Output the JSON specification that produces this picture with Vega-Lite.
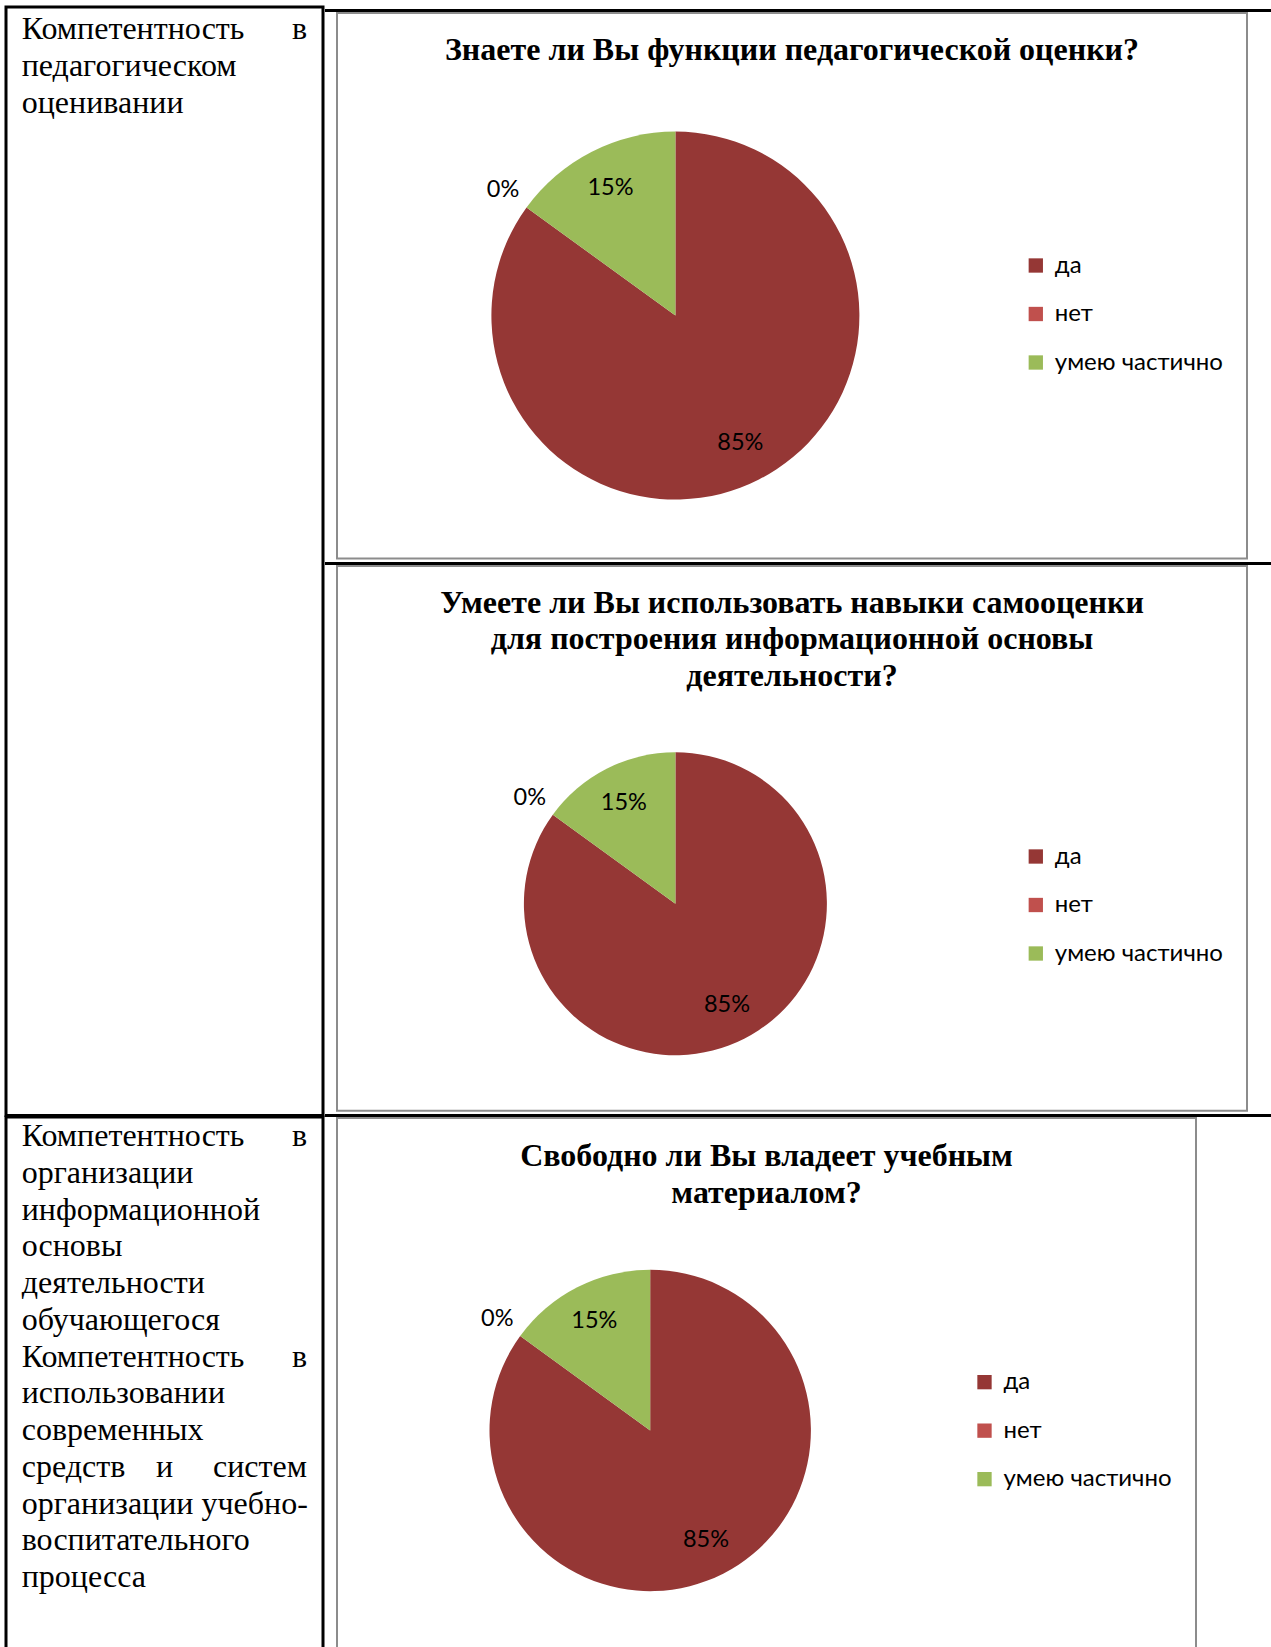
{
  "$schema": "https://vega.github.io/schema/vega-lite/v6.json",
  "padding": {"left": 4, "top": 5, "right": 0, "bottom": 0},
  "background": "white",
  "config": {"view": {"stroke": null}, "font": "Liberation Serif"},
  "datasets": {
    "pies": [
      {"chart": 1, "cat": "да", "v": 0.85},
      {"chart": 1, "cat": "нет", "v": 0},
      {"chart": 1, "cat": "умею частично", "v": 0.15},
      {"chart": 2, "cat": "да", "v": 0.85},
      {"chart": 2, "cat": "нет", "v": 0},
      {"chart": 2, "cat": "умею частично", "v": 0.15},
      {"chart": 3, "cat": "да", "v": 0.85},
      {"chart": 3, "cat": "нет", "v": 0},
      {"chart": 3, "cat": "умею частично", "v": 0.15}
    ],
    "cells": [
      {"cell": "A", "part": "left", "txt": "Компетентность\nпедагогическом\nоценивании"},
      {"cell": "A", "part": "right1", "txt": "в"},
      {"cell": "B", "part": "left", "txt": "Компетентность\nорганизации\nинформационной\nосновы\nдеятельности\nобучающегося\nКомпетентность\nиспользовании\nсовременных\nсредств\nорганизации учебно-\nвоспитательного\nпроцесса"},
      {"cell": "B", "part": "right1", "txt": "в"},
      {"cell": "B", "part": "right7", "txt": "в"},
      {"cell": "B", "part": "right10", "txt": "систем"},
      {"cell": "B", "part": "center10", "txt": "и"}
    ]
  },
  "hconcat": [
    {
      "vconcat": [
        {
          "width": 317, "height": 1108.5,
          "view": {"stroke": "black", "strokeWidth": 3},
          "data": {"name": "cells"},
          "transform": [{"filter": "datum.cell === 'A'"}],
          "layer": [
            {"transform": [{"filter": "datum.part === 'left'"}],
             "mark": {"type": "text", "align": "left", "baseline": "alphabetic", "lineBreak": "\n", "lineHeight": 36.75, "fontSize": 32, "font": "Liberation Serif", "color": "black", "dx": -142.8, "dy": -522.2},
             "encoding": {"text": {"field": "txt", "type": "nominal"}}},
            {"transform": [{"filter": "datum.part === 'right1'"}],
             "mark": {"type": "text", "align": "right", "baseline": "alphabetic", "fontSize": 32, "font": "Liberation Serif", "color": "black", "dx": 142.5, "dy": -522.2},
             "encoding": {"text": {"field": "txt", "type": "nominal"}}}
          ]
        },
        {
          "width": 317, "height": 560,
          "view": {"stroke": "black", "strokeWidth": 3},
          "data": {"name": "cells"},
          "transform": [{"filter": "datum.cell === 'B'"}],
          "layer": [
            {"transform": [{"filter": "datum.part === 'left'"}],
             "mark": {"type": "text", "align": "left", "baseline": "alphabetic", "lineBreak": "\n", "lineHeight": 36.75, "fontSize": 32, "font": "Liberation Serif", "color": "black", "dx": -142.8, "dy": -250.8},
             "encoding": {"text": {"field": "txt", "type": "nominal"}}},
            {"transform": [{"filter": "datum.part === 'right1'"}],
             "mark": {"type": "text", "align": "right", "baseline": "alphabetic", "fontSize": 32, "font": "Liberation Serif", "color": "black", "dx": 142.5, "dy": -250.8},
             "encoding": {"text": {"field": "txt", "type": "nominal"}}},
            {"transform": [{"filter": "datum.part === 'right7'"}],
             "mark": {"type": "text", "align": "right", "baseline": "alphabetic", "fontSize": 32, "font": "Liberation Serif", "color": "black", "dx": 142.5, "dy": -30.3},
             "encoding": {"text": {"field": "txt", "type": "nominal"}}},
            {"transform": [{"filter": "datum.part === 'right10'"}],
             "mark": {"type": "text", "align": "right", "baseline": "alphabetic", "fontSize": 32, "font": "Liberation Serif", "color": "black", "dx": 142.5, "dy": 79.95},
             "encoding": {"text": {"field": "txt", "type": "nominal"}}},
            {"transform": [{"filter": "datum.part === 'center10'"}],
             "mark": {"type": "text", "align": "center", "baseline": "alphabetic", "fontSize": 32, "font": "Liberation Serif", "color": "black", "dx": 0, "dy": 79.95},
             "encoding": {"text": {"field": "txt", "type": "nominal"}}}
          ]
        }
      ],
      "spacing": -6
    },
    {
      "vconcat": [
        {"width": 1, "height": 1.5, "data": {"values": []}, "mark": "point", "encoding": {}, "view": {"fill": "white", "stroke": null}},
        {"width": 947, "height": 3, "data": {"values": []}, "mark": "point", "encoding": {}, "view": {"fill": "black", "stroke": null}},
        {
          "hconcat": [
            {"width": 1, "height": 1, "data": {"values": []}, "mark": "point", "encoding": {}, "view": {"fill": "white", "stroke": null}},
            {
              "width": 910, "height": 545.5,
              "view": {"stroke": "#8c8c8c", "strokeWidth": 2},
              "title": {"text": "Знаете ли Вы функции педагогической оценки?", "font": "Liberation Serif", "fontSize": 32, "fontWeight": "bold", "color": "black", "anchor": "middle", "frame": "group", "orient": "top", "offset": -54},
              "data": {"name": "pies"},
              "transform": [{"filter": "datum.chart === 1"}],
              "layer": [
                {"mark": {"type": "arc", "outerRadius": 184, "xOffset": -116.6, "yOffset": 29.85},
                 "encoding": {
                   "theta": {"field": "v", "type": "quantitative", "stack": true},
                   "order": {"field": "cat", "type": "ordinal", "sort": "ascending"},
                   "color": {"field": "cat", "type": "nominal", "scale": {"domain": ["да", "нет", "умею частично"], "range": ["#953735", "#C0504D", "#9BBB59"]},
                     "legend": {"orient": "none", "legendX": 686.8, "legendY": 240.5, "title": null, "symbolType": "square", "symbolSize": 205, "symbolStrokeWidth": 0, "labelFont": "Lato", "labelFontSize": 24, "labelColor": "black", "labelOffset": 7, "rowPadding": 24.5, "padding": 0, "labelLimit": 400}}}},
                {"mark": {"type": "text", "radius": 143, "xOffset": -116.6, "yOffset": 29.85, "font": "Lato", "fontSize": 23.5, "color": "black"},
                 "encoding": {
                   "theta": {"field": "v", "type": "quantitative", "stack": true},
                   "order": {"field": "cat", "type": "ordinal", "sort": "ascending"},
                   "detail": {"field": "cat", "type": "nominal"},
                   "text": {"field": "v", "type": "quantitative", "format": ".0%"},
                   "opacity": {"condition": {"test": "datum.v > 0", "value": 1}, "value": 0}}},
                {"mark": {"type": "text", "radius": 213, "xOffset": -116.6, "yOffset": 29.85, "font": "Lato", "fontSize": 23.5, "color": "black"},
                 "encoding": {
                   "theta": {"field": "v", "type": "quantitative", "stack": true},
                   "order": {"field": "cat", "type": "ordinal", "sort": "ascending"},
                   "detail": {"field": "cat", "type": "nominal"},
                   "text": {"field": "v", "type": "quantitative", "format": ".0%"},
                   "opacity": {"condition": {"test": "datum.v > 0", "value": 0}, "value": 1}}}
              ]
            }
          ],
          "spacing": 10,
          "resolve": {"scale": {"color": "independent", "theta": "independent"}, "legend": {"color": "independent"}}
        },
        {"width": 1, "height": 1.7, "data": {"values": []}, "mark": "point", "encoding": {}, "view": {"fill": "white", "stroke": null}},
        {"width": 947, "height": 3, "data": {"values": []}, "mark": "point", "encoding": {}, "view": {"fill": "black", "stroke": null}},
        {
          "hconcat": [
            {"width": 1, "height": 1, "data": {"values": []}, "mark": "point", "encoding": {}, "view": {"fill": "white", "stroke": null}},
            {
              "width": 910, "height": 544.8,
              "view": {"stroke": "#8c8c8c", "strokeWidth": 2},
              "title": {"text": ["Умеете ли Вы использовать навыки самооценки", "для построения информационной основы", "деятельности?"], "font": "Liberation Serif", "fontSize": 32, "fontWeight": "bold", "color": "black", "anchor": "middle", "frame": "group", "orient": "top", "offset": -127.2, "lineHeight": 36.75},
              "data": {"name": "pies"},
              "transform": [{"filter": "datum.chart === 2"}],
              "layer": [
                {"mark": {"type": "arc", "outerRadius": 151.5, "xOffset": -116.6, "yOffset": 65.3},
                 "encoding": {
                   "theta": {"field": "v", "type": "quantitative", "stack": true},
                   "order": {"field": "cat", "type": "ordinal", "sort": "ascending"},
                   "color": {"field": "cat", "type": "nominal", "scale": {"domain": ["да", "нет", "умею частично"], "range": ["#953735", "#C0504D", "#9BBB59"]},
                     "legend": {"orient": "none", "legendX": 686.8, "legendY": 278.5, "title": null, "symbolType": "square", "symbolSize": 205, "symbolStrokeWidth": 0, "labelFont": "Lato", "labelFontSize": 24, "labelColor": "black", "labelOffset": 7, "rowPadding": 24.5, "padding": 0, "labelLimit": 400}}}},
                {"mark": {"type": "text", "radius": 113.5, "xOffset": -116.6, "yOffset": 65.3, "font": "Lato", "fontSize": 23.5, "color": "black"},
                 "encoding": {
                   "theta": {"field": "v", "type": "quantitative", "stack": true},
                   "order": {"field": "cat", "type": "ordinal", "sort": "ascending"},
                   "detail": {"field": "cat", "type": "nominal"},
                   "text": {"field": "v", "type": "quantitative", "format": ".0%"},
                   "opacity": {"condition": {"test": "datum.v > 0", "value": 1}, "value": 0}}},
                {"mark": {"type": "text", "radius": 180, "xOffset": -116.6, "yOffset": 65.3, "font": "Lato", "fontSize": 23.5, "color": "black"},
                 "encoding": {
                   "theta": {"field": "v", "type": "quantitative", "stack": true},
                   "order": {"field": "cat", "type": "ordinal", "sort": "ascending"},
                   "detail": {"field": "cat", "type": "nominal"},
                   "text": {"field": "v", "type": "quantitative", "format": ".0%"},
                   "opacity": {"condition": {"test": "datum.v > 0", "value": 0}, "value": 1}}}
              ]
            }
          ],
          "spacing": 10,
          "resolve": {"scale": {"color": "independent", "theta": "independent"}, "legend": {"color": "independent"}}
        },
        {"width": 1, "height": 2, "data": {"values": []}, "mark": "point", "encoding": {}, "view": {"fill": "white", "stroke": null}},
        {"width": 947, "height": 3, "data": {"values": []}, "mark": "point", "encoding": {}, "view": {"fill": "black", "stroke": null}},
        {
          "hconcat": [
            {"width": 1, "height": 1, "data": {"values": []}, "mark": "point", "encoding": {}, "view": {"fill": "white", "stroke": null}},
            {
              "width": 859, "height": 560,
              "view": {"stroke": "#8c8c8c", "strokeWidth": 2},
              "title": {"text": ["Свободно ли Вы владеет учебным", "материалом?"], "font": "Liberation Serif", "fontSize": 32, "fontWeight": "bold", "color": "black", "anchor": "middle", "frame": "group", "orient": "top", "offset": -92, "lineHeight": 36.75},
              "data": {"name": "pies"},
              "transform": [{"filter": "datum.chart === 3"}],
              "layer": [
                {"mark": {"type": "arc", "outerRadius": 160.7, "xOffset": -116.3, "yOffset": 32.45},
                 "encoding": {
                   "theta": {"field": "v", "type": "quantitative", "stack": true},
                   "order": {"field": "cat", "type": "ordinal", "sort": "ascending"},
                   "color": {"field": "cat", "type": "nominal", "scale": {"domain": ["да", "нет", "умею частично"], "range": ["#953735", "#C0504D", "#9BBB59"]},
                     "legend": {"orient": "none", "legendX": 635.5, "legendY": 252.15, "title": null, "symbolType": "square", "symbolSize": 205, "symbolStrokeWidth": 0, "labelFont": "Lato", "labelFontSize": 24, "labelColor": "black", "labelOffset": 7, "rowPadding": 24.5, "padding": 0, "labelLimit": 400}}}},
                {"mark": {"type": "text", "radius": 123, "xOffset": -116.3, "yOffset": 32.45, "font": "Lato", "fontSize": 23.5, "color": "black"},
                 "encoding": {
                   "theta": {"field": "v", "type": "quantitative", "stack": true},
                   "order": {"field": "cat", "type": "ordinal", "sort": "ascending"},
                   "detail": {"field": "cat", "type": "nominal"},
                   "text": {"field": "v", "type": "quantitative", "format": ".0%"},
                   "opacity": {"condition": {"test": "datum.v > 0", "value": 1}, "value": 0}}},
                {"mark": {"type": "text", "radius": 189, "xOffset": -116.3, "yOffset": 32.45, "font": "Lato", "fontSize": 23.5, "color": "black"},
                 "encoding": {
                   "theta": {"field": "v", "type": "quantitative", "stack": true},
                   "order": {"field": "cat", "type": "ordinal", "sort": "ascending"},
                   "detail": {"field": "cat", "type": "nominal"},
                   "text": {"field": "v", "type": "quantitative", "format": ".0%"},
                   "opacity": {"condition": {"test": "datum.v > 0", "value": 0}, "value": 1}}}
              ]
            }
          ],
          "spacing": 10,
          "resolve": {"scale": {"color": "independent", "theta": "independent"}, "legend": {"color": "independent"}}
        }
      ],
      "spacing": 0,
      "resolve": {"scale": {"color": "independent", "theta": "independent"}, "legend": {"color": "independent"}}
    }
  ],
  "spacing": -3,
  "resolve": {"scale": {"color": "independent", "theta": "independent"}, "legend": {"color": "independent"}}
}
